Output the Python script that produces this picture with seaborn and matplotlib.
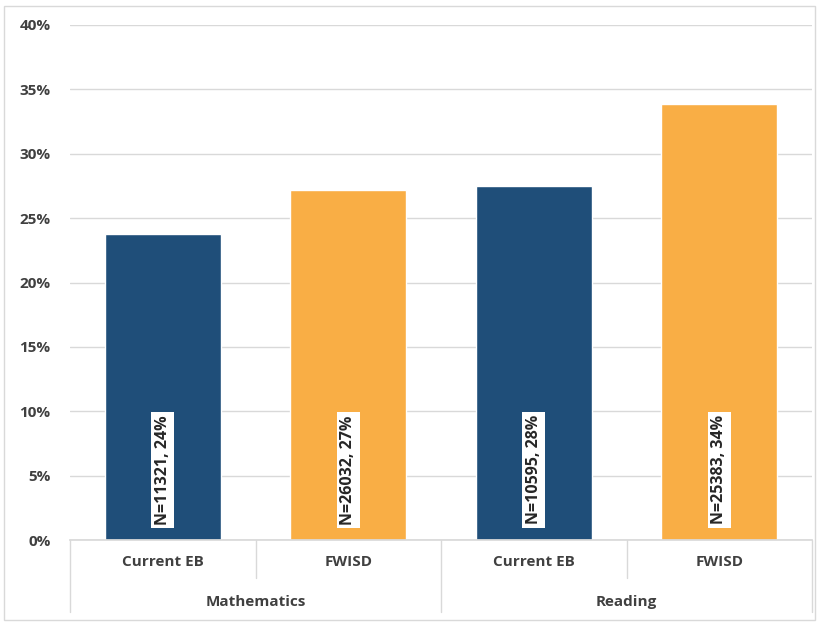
import matplotlib
matplotlib.use("Agg")
import matplotlib.pyplot as plt
import matplotlib.patches as mpatches
import matplotlib.transforms as mtrans
import seaborn as sns
import pandas as pd

subjects = ["Mathematics", "Mathematics", "Reading", "Reading"]
groups = ["Current EB", "FWISD", "Current EB", "FWISD"]
values = [0.238, 0.272, 0.275, 0.339]
labels = ["N=11321, 24%", "N=26032, 27%", "N=10595, 28%", "N=25383, 34%"]
colors = ["#1F4E79", "#F9AE45", "#1F4E79", "#F9AE45"]
yticks = [0, 0.05, 0.10, 0.15, 0.20, 0.25, 0.30, 0.35, 0.40]

sns.set_theme(style="white")
plt.rcParams['font.family'] = ['Open Sans', 'DejaVu Sans']

keys = [f"{s}|{g}" for s, g in zip(subjects, groups)]
df = pd.DataFrame({"key": keys, "value": values})

fig = plt.figure(figsize=(8.19, 6.22), dpi=100)
ax = fig.add_axes([70/819, 82/622, 742/819, 515/622])

sns.barplot(data=df, x="key", y="value", hue="key", palette=colors,
            order=keys, hue_order=keys, width=0.625, legend=False,
            saturation=1, ax=ax)

ax.set_ylim(0, 0.40)
ax.set_xlim(-0.5, 3.5)
ax.set_yticks(yticks)
ax.set_yticklabels([f"{int(round(t*100))}%" for t in yticks],
                   fontsize=11, fontweight="bold", color="#404040")
ax.yaxis.grid(True, color="#d9d9d9", linewidth=1)
ax.set_axisbelow(True)
for sp in ["top", "left", "right"]:
    ax.spines[sp].set_visible(False)
ax.spines["bottom"].set_color("#d9d9d9")
ax.tick_params(axis="y", length=0, pad=14)
ax.tick_params(axis="x", length=0, pad=11)
ax.set_xticks(range(len(groups)))
ax.set_xticklabels(groups, fontsize=11, fontweight="bold", color="#404040")
ax.set_xlabel("")
ax.set_ylabel("")

# value labels
for i, lab in enumerate(labels):
    ax.text(i, 0.0545, lab, rotation=90, ha="center", va="center",
            fontsize=11.5, fontweight="bold", color="#262626",
            bbox=dict(facecolor="white", edgecolor="none", pad=2.5))

# category separator lines below axis
trans = mtrans.blended_transform_factory(ax.transData, ax.transAxes)
for xpos in [0.5, 2.5]:
    ax.plot([xpos, xpos], [0, -0.074], transform=trans, color="#d9d9d9",
            linewidth=1, clip_on=False)
for xpos in [-0.5, 1.5, 3.5]:
    ax.plot([xpos, xpos], [0, -0.14], transform=trans, color="#d9d9d9",
            linewidth=1, clip_on=False)

# group labels
for name, xc in [("Mathematics", 0.5), ("Reading", 2.5)]:
    ax.text(xc, -0.12, name, transform=trans, ha="center", va="center",
            fontsize=11, fontweight="bold", color="#404040")

# figure border
fig.patches.append(mpatches.Rectangle((4/819, 2/622), 811/819, 614/622,
                   transform=fig.transFigure, fill=False,
                   edgecolor="#d9d9d9", linewidth=1))

fig.savefig("out.png", dpi=100)
